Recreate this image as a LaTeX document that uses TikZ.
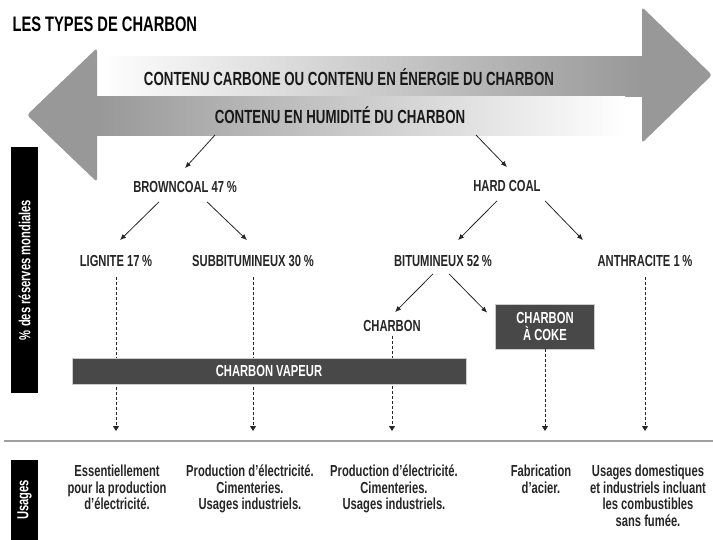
\documentclass[tikz,border=0pt]{standalone}
\usepackage{fontspec}
\setmainfont{Liberation Sans}[FakeStretch=0.7]
\usepackage{xcolor}
\usetikzlibrary{arrows.meta, positioning}

\definecolor{bandgray}{RGB}{152,152,152}
\definecolor{boxgray}{RGB}{72,72,72}
\definecolor{inkgray}{RGB}{38,38,38}

\begin{document}
\begin{tikzpicture}[
        x=1pt, y=-1pt,
        font=\bfseries\fontsize{16}{16.5}\selectfont,
        % Style des types de charbon
        coaltype/.style={
            text=inkgray,
            inner sep=1pt
        },
        % Style des boîtes sombres
        darkbox/.style={
            rectangle,
            fill=boxgray,
            draw=gray!40,
            line width=0.6pt,
            text=white,
            align=center,
            inner sep=0pt
        },
        % Style des bandeaux noirs à gauche
        sidebar/.style={
            fill=black,
            text=white,
            rotate=90,
            inner sep=0pt,
            minimum height=27pt
        },
        % Style des textes d'usage
        usage/.style={
            text=inkgray,
            align=center,
            anchor=north,
            inner sep=0pt
        },
        bandtext/.style={
            text=black!90,
            font=\bfseries\fontsize{19}{20}\selectfont
        },
        % Style des flèches
        line/.style={
            -{Latex[length=6pt,width=5pt]},
            line width=0.8pt,
            draw=inkgray
        },
        dashline/.style={
            -{Triangle[length=5pt,width=6pt]},
            densely dashed,
            line width=0.8pt,
            draw=inkgray
        }
    ]
    \useasboundingbox (0,0) rectangle (713,539);

    % --- TITRE ---
    \node[anchor=west, text=black, font=\bfseries\fontsize{21}{22}\selectfont] (title) at (9,24) {LES TYPES DE CHARBON};

    % --- DOUBLE FLÈCHE ---
    \shade[left color=white, right color=bandgray] (97,56) rectangle (643,96);
    \fill[bandgray, rounded corners=3pt] (642,7) -- (712,75) -- (642,143) -- cycle;
    \shade[left color=bandgray, right color=white] (96,96) rectangle (625,135);
    \fill[bandgray, rounded corners=3pt] (97,48) -- (27,115) -- (97,182) -- cycle;
    \node[bandtext] (energie) at (349,77) {CONTENU CARBONE OU CONTENU EN ÉNERGIE DU CHARBON};
    \node[bandtext] (humidite) at (340,115) {CONTENU EN HUMIDITÉ DU CHARBON};
    \coordinate (fromB) at (215,135);
    \coordinate (fromH) at (476,135);

    % --- BANDEAUX ---
    \node[sidebar, minimum width=246pt] (reserves) at (24.5,270) {\% des réserves mondiales};
    \node[sidebar, minimum width=80pt] (usages) at (24.5,500) {Usages};

    % --- TYPES ---
    \node[coaltype] (brown) at (185,187) {BROWNCOAL 47\,\%};
    \node[coaltype] (hard) at (507,186) {HARD COAL};
    \node[coaltype] (lignite) at (116,261) {LIGNITE 17\,\%};
    \node[coaltype] (subbit) at (253,261) {SUBBITUMINEUX 30\,\%};
    \node[coaltype] (bitum) at (443,261) {BITUMINEUX 52\,\%};
    \node[coaltype] (anthra) at (645,261) {ANTHRACITE 1\,\%};
    \node[coaltype] (charbon) at (392,326) {CHARBON};
    \node[darkbox, minimum width=99pt, minimum height=45pt] (coke) at (545,326.5) {CHARBON\\À COKE};

    % --- FLÈCHES ---
    \draw[line] (fromB) -- ([yshift=12pt]brown.north);
    \draw[line] (fromH) -- ([yshift=12pt]hard.north);
    \draw[line] ([xshift=-26pt,yshift=-8pt]brown.south) -- ([xshift=4pt,yshift=14pt]lignite.north);
    \draw[line] ([xshift=22pt,yshift=-8pt]brown.south) -- ([xshift=-6pt,yshift=14pt]subbit.north);
    \draw[line] ([xshift=-10pt,yshift=-8pt]hard.south) -- ([xshift=15pt,yshift=14pt]bitum.north);
    \draw[line] ([xshift=38pt,yshift=-8pt]hard.south) -- ([xshift=-62pt,yshift=14pt]anthra.north);
    \draw[line] ([xshift=-10pt,yshift=-6pt]bitum.south) -- ([xshift=3pt,yshift=7pt]charbon.north);
    \draw[line] ([xshift=6pt,yshift=-6pt]bitum.south) -- ([xshift=-8pt,yshift=-9pt]coke.north west);

    % --- POINTILLÉS ---
    \coordinate (sep) at (0,431);
    \draw[dashline, shorten <=9pt] (lignite.south) -- (lignite.south |- sep);
    \draw[dashline, shorten <=9pt] (subbit.south) -- (subbit.south |- sep);
    \draw[dashline, shorten <=3pt] (charbon.south) -- (charbon.south |- sep);
    \draw[dashline] (coke.south) -- (coke.south |- sep);
    \draw[dashline, shorten <=9pt] (anthra.south) -- (anthra.south |- sep);
    \node[darkbox, minimum width=394pt, minimum height=26pt] (vapeur) at (269,371) {CHARBON VAPEUR};

    \draw[gray!75, line width=1.6pt] (4,441) -- (713,441);

    % --- USAGES ---
    \node[usage] (u1) at (117,465) {Essentiellement\\pour la production\\d’électricité.};
    \node[usage] (u2) at (250,465) {Production d’électricité.\\Cimenteries.\\Usages industriels.};
    \node[usage] (u3) at (394,465) {Production d’électricité.\\Cimenteries.\\Usages industriels.};
    \node[usage] (u4) at (541,465) {Fabrication\\d’acier.};
    \node[usage] (u5) at (648,465) {Usages domestiques\\et industriels incluant\\les combustibles\\sans fumée.};

\end{tikzpicture}
\end{document}
